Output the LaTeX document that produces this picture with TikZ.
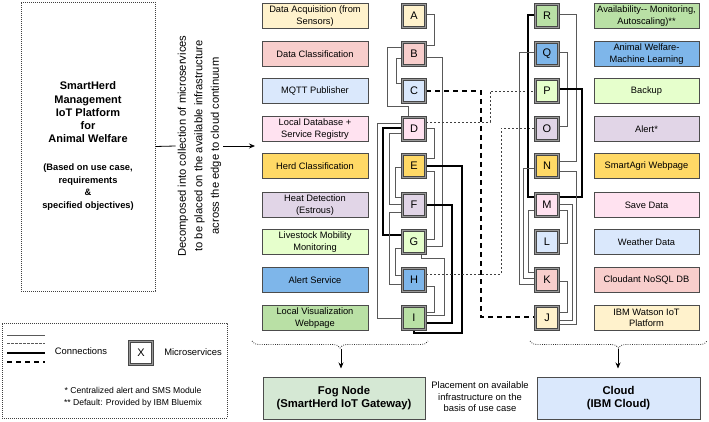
\documentclass[tikz,border=0pt]{standalone}
\usepackage{fontspec}
\setmainfont{Liberation Sans}
\usetikzlibrary{arrows.meta,decorations.pathreplacing,backgrounds,calc}
\definecolor{cA}{HTML}{FFF2CC}
\definecolor{cB}{HTML}{F8CECC}
\definecolor{cC}{HTML}{DAE8FC}
\definecolor{cD}{HTML}{FFE2F0}
\definecolor{cE}{HTML}{FFD966}
\definecolor{cF}{HTML}{E1D5E7}
\definecolor{cG}{HTML}{E6FFCC}
\definecolor{cH}{HTML}{7EB6EA}
\definecolor{cI}{HTML}{B9E0A5}
\definecolor{fogc}{HTML}{D5E8D4}
\definecolor{cloudc}{HTML}{DAE8FC}
\tikzset{
  lab/.style={draw=black!70, line width=0.9pt, minimum width=106pt, minimum height=25pt,
    inner sep=1pt, align=center, font=\fontsize{9.3}{11.5}\selectfont},
  ms/.style={draw=black!72, double=black!40, line width=0.8pt, double distance=1.2pt,
    minimum size=23.2pt, inner sep=0pt, font=\fontsize{11}{13}\selectfont},
  cn/.style={draw=black!65, line width=0.9pt},
  cthick/.style={draw=black, line width=1.6pt},
  cdot/.style={draw=black!75, line width=0.8pt, dash pattern=on 2pt off 2pt},
  cdash/.style={draw=black, line width=1.6pt, dash pattern=on 5pt off 4pt},
  dotbox/.style={draw=black!75, line width=0.7pt, dash pattern=on 0.8pt off 1.2pt},
  bot/.style={draw=black!70, line width=1pt, minimum width=162pt, minimum height=42pt,
    align=center, font=\fontsize{11.3}{13}\selectfont\bfseries},
  arr/.style={-{Stealth[length=6pt,width=5pt]}, line width=0.8pt},
  dbrace/.style={draw=black!80, line width=0.8pt, dash pattern=on 0.8pt off 1.4pt,
    decorate, decoration={brace, mirror, amplitude=7pt}},
}
\begin{document}
\begin{tikzpicture}[x=1pt,y=-1pt]
\useasboundingbox (0,0) rectangle (709,422);

% left system box
\node[dotbox, minimum width=134pt, minimum height=289pt, inner sep=0pt] (sys) at (88,146.5) {};
\node[align=center, font=\fontsize{11}{13.25}\selectfont\bfseries] (title) at (88,112.5)
  {SmartHerd\\Management\\IoT Platform\\for\\Animal Welfare};
\node[align=center, font=\fontsize{9.3}{12.7}\selectfont\bfseries] (sub) at (88,187)
  {(Based on use case,\\requirements\\\&\\specified objectives)};

\node[rotate=90, align=center, font=\fontsize{11.2}{16.5}\selectfont, inner sep=2pt] (dec) at (199.5,146)
  {Decomposed into collection of microservices\\to be placed on the available infrastructure\\across the edge to cloud continuum};
\coordinate (arrEnd) at (255,146);
\draw[line width=0.8pt] (sys.east) -- (dec.north);
\draw[arr] (dec.south) -- (arrEnd);

% left labels
\node[lab, fill=cA] (lA) at (315,16) {Data Acquisition (from\\Sensors)};
\node[lab, fill=cB] (lB) at (315,54) {Data Classification};
\node[lab, fill=cC] (lC) at (315,91) {MQTT Publisher};
\node[lab, fill=cD] (lD) at (315,129) {Local Database +\\Service Registry};
\node[lab, fill=cE] (lE) at (315,166) {Herd Classification};
\node[lab, fill=cF] (lF) at (315,205) {Heat Detection\\(Estrous)};
\node[lab, fill=cG] (lG) at (315,242) {Livestock Mobility\\Monitoring};
\node[lab, fill=cH] (lH) at (315,280) {Alert Service};
\node[lab, fill=cI] (lI) at (315,318) {Local Visualization\\Webpage};

% left microservices
\node[ms, fill=cA] (A) at (414,16) {A};
\node[ms, fill=cB] (B) at (414,54) {B};
\node[ms, fill=cC] (C) at (414,91) {C};
\node[ms, fill=cD] (D) at (414,129) {D};
\node[ms, fill=cE] (E) at (414,166) {E};
\node[ms, fill=cF] (F) at (414,205) {F};
\node[ms, fill=cG] (G) at (414,242) {G};
\node[ms, fill=cH] (H) at (414,280) {H};
\node[ms, fill=cI] (I) at (414,318) {I};

% right microservices
\node[ms, fill=cI] (R) at (547,16) {R};
\node[ms, fill=cH] (Q) at (547,54) {Q};
\node[ms, fill=cG] (P) at (547,91) {P};
\node[ms, fill=cF] (O) at (547,129) {O};
\node[ms, fill=cE] (N) at (547,166) {N};
\node[ms, fill=cD] (M) at (547,205) {M};
\node[ms, fill=cC] (L) at (547,242) {L};
\node[ms, fill=cB] (K) at (547,280) {K};
\node[ms, fill=cA] (J) at (547,318) {J};

% right labels
\node[lab, fill=cI, minimum width=105pt] (lR) at (646.5,16) {Availability-{}- Monitoring,\\Autoscaling)**};
\node[lab, fill=cH, minimum width=105pt] (lQ) at (646.5,54) {Animal Welfare-\\Machine Learning};
\node[lab, fill=cG, minimum width=105pt] (lP) at (646.5,91) {Backup};
\node[lab, fill=cF, minimum width=105pt] (lO) at (646.5,129) {Alert*};
\node[lab, fill=cE, minimum width=105pt] (lN) at (646.5,166) {SmartAgri Webpage};
\node[lab, fill=cD, minimum width=105pt] (lM) at (646.5,205) {Save Data};
\node[lab, fill=cC, minimum width=105pt] (lL) at (646.5,242) {Weather Data};
\node[lab, fill=cB, minimum width=105pt] (lK) at (646.5,280) {Cloudant NoSQL DB};
\node[lab, fill=cA, minimum width=105pt] (lJ) at (646.5,318) {IBM Watson IoT\\Platform};

\begin{pgfonlayer}{background}
% left group connections
\draw[cn] (A.east|-0,14) -| (434,45) -- (B.east|-0,45);
\draw[cn] (B.west|-0,47) -| (387,106) -| ([xshift=-6pt]D.north);
\draw[cn] (B.west|-0,58) -| (396,83) -- (C.west|-0,83);
\draw[cn] (B.east|-0,57) -| (442,246) -- (G.east|-0,246);
\draw[cdash] (C.east) -| (481,317) -- (J.west|-0,317);
\draw[cdot] (D.east|-0,122) -| (490,91) -- (P.west|-0,91);
\draw[cn] (D.east|-0,128) -| (434,158) -- (E.east|-0,158);
\draw[cn] (D.west|-0,123) -| (377,318) -- (I.west);
\draw[cthick] (D.west|-0,128) -| (383,235) -- (G.west|-0,235);
\draw[cn] (D.west|-0,133) -| (389,204) -- (F.west|-0,204);
\draw[cn] (E.west|-0,167) -| (395,197) -- (F.west|-0,197);
\draw[cthick] (E.east) -| (462,333) -| (I.south);
\draw[cn] (E.east|-0,171) -| (434,239) -- (G.east|-0,239);
\draw[cthick] (F.east) -| (452,323) -- (I.east|-0,323);
\draw[cn] (F.west|-0,212) -| (389,284) -- (H.west|-0,284);
\draw[cn] (G.west|-0,248) -| (395,275) -- (H.west|-0,275);
\draw[cn] ([xshift=7pt]G.south) |- (444,258) |- (I.east|-0,315);
\draw[cn] (H.east|-0,286) -| (434,312) -- (I.east|-0,312);
\draw[cdot] (H.east|-0,274) -| (501,128) -- (O.west|-0,128);
% right group connections
\draw[cthick] (R.west|-0,15) -| (528,197) -- (M.west|-0,197);
\draw[cn] (R.east|-0,14) -| (576,161) -- (N.east|-0,161);
\draw[cn] (Q.west|-0,52) -| (519,284) -- (K.west|-0,284);
\draw[cn] (Q.east|-0,52) -| (567,126) -- (O.east|-0,126);
\draw[cthick] (P.east|-0,89) -| (582,197) -- (M.east|-0,197);
\draw[cn] (N.west|-0,168) -| (523,278) -- (K.west|-0,278);
\draw[cn] (M.west|-0,210) -| (528,272) -- (K.west|-0,272);
\draw[cn] (M.east|-0,204) -| (572,320) -- (J.east|-0,320);
\draw[cn] (M.east|-0,210) -| (567,243) -- (L.east|-0,243);
\draw[cn] (K.east|-0,281) -| (567,312) -- (J.east|-0,312);
\draw[cn] (N.east|-0,171) -| (576,324) -- (J.east|-0,324);
\end{pgfonlayer}

% legend
\node[dotbox, minimum width=225pt, minimum height=95pt, inner sep=0pt] (legend) at (114.5,370.5) {};
\draw[cn] (7,335) -- (45,335);
\draw[cdot, draw=black!65, dash pattern=on 2.5pt off 1.5pt] (7,343) -- (45,343);
\draw[cthick] (7,353) -- (45,353);
\draw[cdash] (7,362) -- (45,362);
\node[font=\fontsize{9.4}{11}\selectfont] (conn) at (81,351) {Connections};
\node[ms, fill=white] (X) at (141,353) {X};
\node[font=\fontsize{9.4}{11}\selectfont] (msl) at (193,352) {Microservices};
\node[font=\fontsize{8.6}{10}\selectfont] (n1) at (133,390) {* Centralized alert and SMS Module};
\node[font=\fontsize{8.6}{10}\selectfont] (n2) at (133,403) {** Default: Provided by IBM Bluemix};

% bottom
\node[bot, fill=fogc] (fog) at (344,398) {Fog Node\\(SmartHerd IoT Gateway)};
\node[bot, fill=cloudc, minimum width=163pt] (cloud) at (618.5,398) {Cloud\\(IBM Cloud)};
\node[align=center, font=\fontsize{9.4}{11.5}\selectfont] (place) at (480,397)
  {Placement on available\\infrastructure on the\\basis of use case};
\draw[dbrace] (252,341) -- (428,341);
\draw[dbrace] (530,341) -- (707,341);
\coordinate (b1) at (341,349);
\coordinate (b2) at (618,349);
\draw[arr, shorten >=8pt] (b1) -- (fog.north -| b1);
\draw[arr, shorten >=8pt] (b2) -- (cloud.north -| b2);
\end{tikzpicture}
\end{document}
